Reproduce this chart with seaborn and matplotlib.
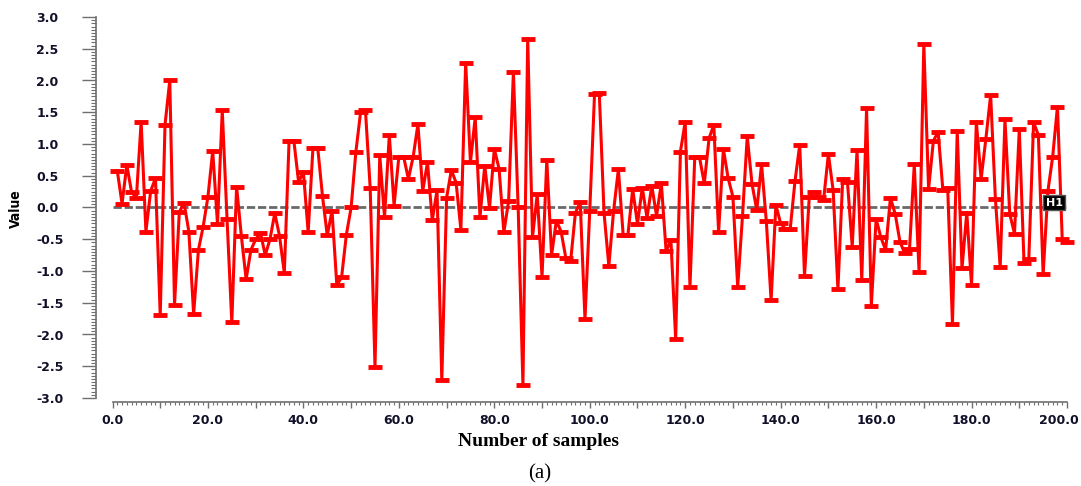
import matplotlib
matplotlib.use("Agg")
import matplotlib.pyplot as plt
from matplotlib.ticker import MultipleLocator, FuncFormatter
import numpy as np
import pandas as pd
import seaborn as sns

# Sample index and measured value for each sample
sample_index = list(range(1, 201))
values = [
    0.58, 0.06, 0.67, 0.24, 0.15, 1.35, -0.38, 0.26, 0.46, -1.70,
    1.30, 2.00, -1.53, -0.07, 0.07, -0.38, -1.68, -0.67, -0.30, 0.17,
    0.89, -0.26, 1.53, -0.18, -1.81, 0.33, -0.45, -1.13, -0.67, -0.50,
    -0.40, -0.75, -0.50, -0.09, -0.45, -1.03, 1.05, 1.05, 0.40, 0.56,
    -0.39, 0.94, 0.94, 0.18, -0.44, -0.05, -1.22, -1.10, -0.43, 0.00,
    0.88, 1.51, 1.53, 0.30, -2.51, 0.82, -0.15, 1.14, 0.03, 0.80,
    0.80, 0.45, 0.80, 1.31, 0.26, 0.71, -0.20, 0.27, -2.72, 0.15,
    0.59, 0.39, -0.35, 2.28, 0.71, 1.42, -0.15, 0.66, -0.01, 0.92,
    0.61, -0.39, 0.10, 2.13, 0.00, -2.80, 2.66, -0.47, 0.21, -1.09,
    0.75, -0.75, -0.21, -0.38, -0.80, -0.84, -0.08, 0.08, -1.76, -0.05,
    1.78, 1.80, -0.09, -0.92, -0.05, 0.60, -0.43, -0.43, 0.29, -0.26,
    0.31, -0.16, 0.34, -0.13, 0.38, -0.69, -0.51, -2.07, 0.88, 1.35,
    -1.25, 0.79, 0.79, 0.38, 1.09, 1.30, -0.39, 0.92, 0.46, 0.17,
    -1.25, -0.14, 1.12, 0.37, -0.04, 0.68, -0.22, -1.46, 0.04, -0.25,
    -0.34, -0.34, 0.41, 0.99, -1.08, 0.17, 0.25, 0.16, 0.12, 0.84,
    0.27, -1.29, 0.45, 0.40, -0.62, 0.90, -1.14, 1.56, -1.55, -0.18,
    -0.47, -0.67, 0.15, -0.10, -0.54, -0.72, -0.66, 0.68, -1.01, 2.57,
    0.29, 1.05, 1.19, 0.27, 0.31, -1.83, 1.20, -0.96, -0.08, -1.22,
    1.35, 0.45, 1.08, 1.77, 0.13, -0.94, 1.39, -0.10, -0.41, 1.23,
    -0.88, -0.81, 1.34, 1.14, -1.05, 0.26, 0.80, 1.59, -0.50, -0.54,
]

x_label = "Number of samples"
y_label = "Value"
panel_label = "(a)"
series_tag = "H1"
x_max = 200

sns.set_theme(style="white")
plt.rcParams["font.family"] = ["DejaVu Sans"]
plt.rcParams["axes.unicode_minus"] = False

W, H = 1081, 486
fig = plt.figure(figsize=(W / 100, H / 100), dpi=100)
ax = fig.add_axes([112.5 / W, 88 / H, 954.5 / W, 381 / H])

df = pd.DataFrame({"sample": sample_index, "value": values})

# zero reference line
ax.axhline(0, color="#696969", lw=2.0, ls=(0, (3, 1)), zorder=1)

sns.lineplot(
    data=df, x="sample", y="value", ax=ax,
    color="#ff0000", lw=2.2, marker="_", markersize=9.5,
    markeredgewidth=3.5, markeredgecolor="#ff0000",
    clip_on=False, zorder=3, legend=False,
)

ax.set_xlim(0, x_max)
ax.set_ylim(-3, 3)
ax.set_xlabel("")
ax.set_ylabel("")
ax.grid(False)

for side in ("top", "right"):
    ax.spines[side].set_visible(False)
axis_grey = "#6f6f6f"
ax.spines["left"].set_position(("outward", 11.8))
ax.spines["bottom"].set_position(("outward", 2.9))
for side in ("left", "bottom"):
    ax.spines[side].set_color(axis_grey)
    ax.spines[side].set_linewidth(1.2)

label_color = "#101028"

ax.xaxis.set_major_locator(MultipleLocator(10))
ax.xaxis.set_minor_locator(MultipleLocator(1))
# every second major tick is labelled; the last one is drawn right-aligned below
ax.xaxis.set_major_formatter(
    FuncFormatter(lambda v, p: f"{v:.1f}" if round(v) % 20 == 0 and v < x_max else "")
)
ax.yaxis.set_major_locator(MultipleLocator(0.5))
ax.yaxis.set_minor_locator(MultipleLocator(0.05))
ax.yaxis.set_major_formatter(FuncFormatter(lambda v, p: f"{v:.1f}"))

ax.tick_params(axis="x", which="major", direction="out", length=4.3, width=1,
               color=axis_grey, pad=4.5, labelsize=9, labelcolor=label_color)
ax.tick_params(axis="x", which="minor", direction="out", length=2.2, width=0.8,
               color=axis_grey)
ax.tick_params(axis="y", which="major", direction="out", length=10, width=1,
               color=axis_grey, pad=33, labelsize=9, labelcolor=label_color)
ax.tick_params(axis="y", which="minor", direction="out", length=3.6, width=0.8,
               color=axis_grey)
ax.tick_params(left=True, bottom=True, which="both")
for lab in ax.get_xticklabels() + ax.get_yticklabels():
    lab.set_fontweight("bold")
for lab in ax.get_yticklabels():
    lab.set_horizontalalignment("left")

# last x tick label, kept inside the figure's right edge
ax.annotate(f"{x_max:.1f}", xy=(x_max, 0), xycoords=("data", "axes fraction"),
            xytext=(8.8, -11.7), textcoords="offset points",
            ha="right", va="top", fontsize=9, fontweight="bold",
            color=label_color, annotation_clip=False)

# series tag at the end of the zero line
ax.text(197.3, 0.0, series_tag, ha="center", va="bottom", fontsize=8,
        fontweight="bold", color="white", zorder=5,
        bbox=dict(boxstyle="square,pad=0.2", fc="black", ec="#555555"))

fig.text(538 / W, 1 - 441 / H, x_label, ha="center", va="center",
         fontsize=14, fontweight="bold", family="Liberation Serif", color="black")
fig.text(540 / W, 1 - 474 / H, panel_label, ha="center", va="center",
         fontsize=15, family="Liberation Serif", color="black")
fig.text(16 / W, 1 - 209 / H, y_label, ha="center", va="center", rotation=90,
         fontsize=10, fontweight="bold", fontstretch="condensed", color="black")

fig.savefig("out.png", dpi=100)
